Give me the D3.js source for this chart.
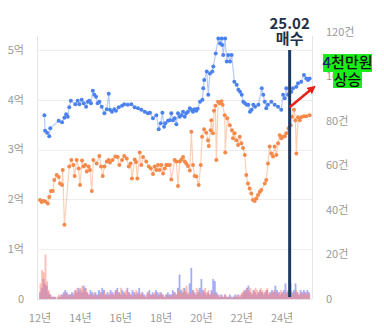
<!DOCTYPE html>
<meta charset="utf-8">
<style>

body {
  margin: 0;
  background: #fff;
}

svg {
  font-family: "Noto Sans CJK KR", "Noto Sans", sans-serif;
}

.tick-label {
  fill: #999;
  font-size: 11px;
}

.grid line {
  stroke: #eee;
  stroke-width: 1px;
}

.frame {
  stroke: #e4e4e4;
  stroke-width: 1px;
}

.sale-line {
  fill: none;
  stroke: #6f98f2;
  stroke-opacity: 0.5;
  stroke-width: 1.2px;
}

.sale-dot {
  fill: #4c82f0;
}

.rent-line {
  fill: none;
  stroke: #f5894a;
  stroke-opacity: 0.4;
  stroke-width: 1.2px;
}

.rent-dot {
  fill: #f5894a;
}

.marker-label {
  fill: #1e2f4a;
  font-size: 15px;
  font-weight: bold;
  text-anchor: middle;
}

.note {
  font-size: 15px;
  font-weight: 500;
  text-anchor: middle;
}

</style>
<svg></svg>
<script src="https://d3js.org/d3.v7.min.js"></script>
<script>

// months counted from 2012-01
var saleMonths = [2.6, 3.0, 4.2, 5.5, 6.1, 11.1, 13.1, 14.5, 15.5, 16.5, 17.4, 18.3, 21.0, 22.4, 23.4, 24.8, 26.0, 27.4, 28.4, 29.3,
  30.3, 31.4, 32.3, 33.3, 34.3, 35.3, 36.7, 38.3, 39.7, 40.9, 41.6, 42.8, 44.2, 45.2, 46.8, 48.8, 50.1, 52.2, 54.3, 56.3,
  58.3, 60.3, 62.3, 64.2, 65.4, 67.2, 69.2, 70.6, 71.8, 72.8, 73.8, 74.5, 76.1, 77.2, 78.1, 79.1, 80.1, 81.1, 82.1, 83.1,
  84.1, 85.1, 86.1, 87.0, 88.0, 89.1, 90.0, 91.0, 92.0, 93.0, 93.8, 95.2, 96.6, 97.1, 97.7, 99.2, 100.1, 101.1, 102.5, 103.1,
  104.5, 106.1, 107.1, 108.1, 108.4, 109.0, 110.1, 111.1, 112.0, 113.0, 114.0, 115.6, 117.0, 118.0, 119.0, 120.0, 120.9, 121.9, 123.0, 123.9,
  124.9, 125.9, 126.9, 127.9, 129.9, 131.9, 132.8, 133.7, 134.6, 135.6, 137.6, 139.6, 141.6, 143.5, 144.6, 145.6, 146.5, 147.5, 149.5, 150.5,
  152.5, 153.5, 155.4, 157.0, 158.4, 159.4, 160.4];

// 매매 price, 억
var salePrice = [3.69, 3.38, 3.34, 3.27, 3.43, 3.58, 3.55, 3.64, 3.71, 3.66, 3.85, 3.98, 3.91, 3.98, 3.91, 4.00, 3.93, 3.86, 3.96, 3.98,
  3.93, 4.18, 4.10, 4.06, 3.93, 3.96, 3.86, 3.73, 3.81, 4.12, 3.80, 3.76, 3.81, 3.78, 3.85, 3.88, 3.91, 3.90, 3.91, 3.85,
  3.83, 3.80, 3.76, 3.73, 3.74, 3.63, 3.69, 3.41, 3.53, 3.74, 3.46, 3.53, 3.58, 3.59, 3.73, 3.59, 3.63, 3.51, 3.73, 3.66,
  3.69, 3.76, 3.66, 3.73, 3.76, 3.83, 3.80, 3.76, 3.81, 3.78, 3.82, 3.96, 4.00, 4.23, 4.40, 4.57, 4.10, 4.53, 4.57, 4.67,
  4.93, 5.23, 5.13, 5.23, 5.10, 4.90, 5.23, 4.77, 4.90, 4.77, 4.90, 4.36, 4.30, 4.20, 4.16, 4.10, 3.96, 3.93, 3.90, 3.90,
  3.76, 3.80, 3.90, 3.86, 3.90, 4.23, 4.10, 3.96, 3.83, 3.90, 3.96, 3.90, 3.86, 3.80, 4.10, 4.03, 4.23, 4.10, 4.16, 4.23,
  4.26, 4.33, 4.36, 4.50, 4.43, 4.40, 4.43];

var rentMonths = [0.0, 1.0, 2.0, 3.2, 4.6, 5.5, 6.5, 7.6, 8.5, 9.9, 11.1, 11.9, 13.1, 13.5, 14.5, 17.4, 18.6, 19.8, 20.6, 21.8,
  23.0, 23.8, 25.0, 25.8, 26.9, 27.8, 29.0, 29.7, 30.8, 31.7, 33.7, 35.3, 36.3, 37.3, 38.3, 39.7, 40.9, 41.6, 43.2, 44.8,
  46.2, 47.2, 48.8, 50.1, 51.6, 52.8, 53.9, 54.7, 56.3, 57.1, 57.9, 59.3, 60.3, 61.3, 63.2, 64.7, 65.9, 67.2, 68.2, 69.2,
  70.2, 71.2, 72.2, 73.2, 74.2, 75.1, 76.1, 77.2, 78.1, 80.1, 81.1, 82.1, 83.1, 84.1, 85.1, 86.1, 87.0, 88.0, 89.1, 90.0,
  91.0, 92.0, 93.0, 94.4, 95.6, 96.4, 97.6, 98.9, 99.9, 100.4, 101.5, 101.9, 102.9, 103.5, 104.3, 104.9, 105.9, 106.9, 107.9, 108.6,
  109.9, 110.2, 111.4, 112.9, 114.2, 114.8, 115.8, 116.8, 117.8, 118.8, 119.8, 120.8, 121.8, 122.7, 123.7, 124.7, 125.7, 126.7, 127.7, 128.7,
  129.7, 130.7, 131.6, 133.7, 134.6, 135.6, 136.6, 137.6, 138.6, 139.6, 140.6, 141.6, 142.6, 143.5, 144.6, 145.6, 146.5, 147.9, 149.1, 149.9,
  151.1, 151.9, 152.5, 153.5, 154.5, 155.4, 157.0, 158.4, 160.4];

// 전세 price, 억
var rentPrice = [1.99, 1.95, 1.97, 1.96, 1.92, 2.05, 2.17, 2.17, 2.39, 2.49, 2.45, 2.32, 2.29, 2.59, 1.49, 2.66, 2.79, 2.69, 2.47, 2.79,
  2.62, 2.29, 2.78, 2.66, 2.69, 2.56, 2.66, 2.59, 2.17, 2.79, 2.72, 2.87, 2.66, 2.47, 2.66, 2.76, 2.79, 2.74, 2.79, 2.86,
  2.85, 2.69, 2.79, 2.87, 2.82, 2.66, 2.72, 2.42, 2.80, 2.75, 2.42, 2.94, 2.69, 2.85, 2.76, 2.66, 2.62, 2.51, 2.66, 2.59,
  2.69, 2.59, 2.69, 2.52, 2.62, 2.69, 2.69, 2.69, 2.40, 2.79, 2.76, 2.27, 2.76, 2.80, 2.85, 2.76, 2.72, 2.67, 2.58, 3.36,
  2.69, 2.47, 2.46, 2.29, 2.69, 3.26, 3.41, 3.34, 3.19, 3.07, 3.39, 3.59, 3.33, 3.78, 3.88, 2.79, 3.96, 3.93, 3.97, 3.90,
  3.69, 2.94, 3.63, 3.49, 3.39, 3.23, 3.33, 3.19, 3.09, 3.26, 3.13, 3.03, 2.89, 2.49, 2.32, 2.22, 2.12, 1.99, 1.97, 2.02,
  2.09, 2.15, 2.19, 2.32, 2.39, 2.72, 3.06, 2.92, 2.86, 3.06, 2.89, 3.13, 3.29, 3.23, 3.26, 3.27, 3.33, 3.43, 3.49, 3.66,
  3.80, 3.59, 2.92, 3.65, 3.59, 3.65, 3.67, 3.67, 3.69];

// monthly deal counts (건), one per month from 2012-01
var saleCount = [3, 5, 9, 7, 6, 3, 2, 1, 1, 1, 0, 1, 1, 2, 3, 4, 3, 2, 2, 3,
  2, 4, 3, 5, 4, 3, 6, 5, 3, 2, 4, 3, 2, 3, 2, 4, 3, 5, 4, 2,
  3, 2, 4, 3, 2, 4, 5, 3, 2, 4, 3, 2, 5, 3, 2, 4, 3, 2, 3, 5,
  2, 3, 2, 1, 3, 4, 2, 3, 2, 4, 3, 2, 3, 2, 1, 2, 3, 2, 2, 4,
  3, 2, 5, 11, 4, 3, 5, 3, 2, 7, 14, 4, 3, 2, 3, 5, 9, 4, 3, 2,
  3, 2, 4, 9, 8, 3, 2, 1, 2, 1, 2, 1, 1, 2, 1, 1, 2, 1, 2, 1,
  2, 3, 4, 5, 6, 3, 2, 4, 3, 2, 3, 4, 3, 2, 3, 4, 2, 3, 4, 3,
  6, 4, 3, 2, 3, 4, 7, 3, 4, 7, 3, 4, 7, 3, 2, 4, 3, 4, 3, 4, 3];

var rentCount = [7, 13, 12, 20, 8, 4, 2, 1, 1, 0, 1, 2, 2, 1, 2, 3, 1, 2, 2, 1,
  3, 4, 5, 3, 5, 6, 4, 5, 3, 2, 2, 1, 3, 2, 1, 2, 3, 2, 4, 2,
  1, 3, 2, 2, 3, 4, 2, 3, 5, 2, 3, 4, 2, 3, 2, 1, 3, 4, 2, 2,
  3, 2, 1, 2, 3, 2, 1, 2, 3, 2, 1, 3, 2, 2, 1, 2, 1, 2, 1, 2,
  3, 2, 4, 3, 2, 5, 4, 6, 3, 2, 3, 4, 2, 5, 4, 3, 2, 4, 5, 3,
  4, 2, 3, 2, 3, 2, 1, 2, 1, 1, 2, 1, 1, 1, 0, 1, 1, 2, 1, 2,
  3, 4, 3, 5, 4, 5, 3, 4, 5, 4, 3, 5, 4, 3, 4, 5, 3, 2, 3, 4,
  3, 2, 3, 4, 3, 2, 3, 4, 3, 4, 2, 3, 4, 3, 2, 3, 2, 3, 2, 3, 2];

var yearTicks = [12, 14, 16, 18, 20, 22, 24];
var priceTicks = [0, 1, 2, 3, 4, 5];
var countTicks = [0, 20, 40, 60, 80, 100, 120];

var markerMonth = 148.5;
var markerText = ['25.02', '매수'];
var noteText = ['4천만원', '상승'];

var width = 384;
var height = 334;
var left = 37, right = 312, bottom = 299;

var svg = d3.select('svg')
  .attr('width', width)
  .attr('height', height);

var x = d3.scaleLinear().domain([-1.8, 161.8]).range([left, right]);
var yPrice = d3.scaleLinear().domain([0, 5]).range([bottom, 50]);
var yCount = d3.scaleLinear().domain([0, 120]).range([bottom, 32]);

// grid
svg.append('g')
  .attr('class', 'grid')
  .selectAll('line')
  .data(priceTicks.slice(1))
  .enter().append('line')
  .attr('x1', left)
  .attr('x2', right)
  .attr('y1', function (d) { return Math.round(yPrice(d)) + 0.5; })
  .attr('y2', function (d) { return Math.round(yPrice(d)) + 0.5; });

svg.append('line').attr('class', 'frame')
  .attr('x1', left + 0.5).attr('x2', left + 0.5).attr('y1', 36).attr('y2', bottom);
svg.append('line').attr('class', 'frame')
  .attr('x1', right + 0.5).attr('x2', right + 0.5).attr('y1', 36).attr('y2', bottom);
svg.append('line').attr('class', 'frame')
  .attr('x1', left).attr('x2', right).attr('y1', bottom + 0.5).attr('y2', bottom + 0.5);

// axis labels
svg.append('g')
  .selectAll('text')
  .data(priceTicks)
  .enter().append('text')
  .attr('class', 'tick-label')
  .attr('x', 24)
  .attr('y', function (d) { return yPrice(d); })
  .attr('dy', '0.35em')
  .attr('text-anchor', 'end')
  .text(function (d) { return d === 0 ? '0' : d + '억'; });

svg.append('g')
  .selectAll('text')
  .data(countTicks)
  .enter().append('text')
  .attr('class', 'tick-label')
  .attr('x', 326)
  .attr('y', function (d) { return yCount(d); })
  .attr('dy', '0.35em')
  .text(function (d) { return d === 0 ? '0' : d + '건'; });

svg.append('g')
  .selectAll('text')
  .data(yearTicks)
  .enter().append('text')
  .attr('class', 'tick-label')
  .attr('x', function (d) { return x((d - 12) * 12); })
  .attr('y', 318)
  .attr('dy', '0.35em')
  .attr('text-anchor', 'middle')
  .text(function (d) { return d + '년'; });

// deal count bars
var barW = 1.8;
svg.append('g')
  .selectAll('rect')
  .data(saleCount)
  .enter().append('rect')
  .attr('x', function (d, i) { return x(i) - barW / 2; })
  .attr('y', function (d) { return yCount(d); })
  .attr('width', barW)
  .attr('height', function (d) { return bottom - yCount(d); })
  .attr('fill', '#5f68f5')
  .attr('fill-opacity', 0.55);

svg.append('g')
  .selectAll('rect')
  .data(rentCount)
  .enter().append('rect')
  .attr('x', function (d, i) { return x(i) - barW / 2 + 0.4; })
  .attr('y', function (d) { return yCount(d); })
  .attr('width', barW)
  .attr('height', function (d) { return bottom - yCount(d); })
  .attr('fill', '#ff8575')
  .attr('fill-opacity', 0.55);

// price lines
function drawSeries(months, values, cls) {
  var pts = months.map(function (m, i) { return [m, values[i]]; });
  var line = d3.line()
    .x(function (d) { return x(d[0]); })
    .y(function (d) { return yPrice(d[1]); });
  svg.append('path')
    .datum(pts)
    .attr('class', cls + '-line')
    .attr('d', line);
  svg.append('g')
    .selectAll('circle')
    .data(pts)
    .enter().append('circle')
    .attr('class', cls + '-dot')
    .attr('cx', function (d) { return x(d[0]); })
    .attr('cy', function (d) { return yPrice(d[1]); })
    .attr('r', 2);
}

drawSeries(rentMonths, rentPrice, 'rent');
drawSeries(saleMonths, salePrice, 'sale');

// purchase marker
svg.append('line')
  .attr('x1', x(markerMonth))
  .attr('x2', x(markerMonth))
  .attr('y1', 50)
  .attr('y2', bottom - 2)
  .attr('stroke', '#1d3a63')
  .attr('stroke-width', 3);

svg.selectAll('.marker-label')
  .data(markerText)
  .enter().append('text')
  .attr('class', 'marker-label')
  .attr('x', x(markerMonth))
  .attr('y', function (d, i) { return 29 + i * 15; })
  .text(function (d) { return d; });

// red arrow
svg.append('defs').append('marker')
  .attr('id', 'head')
  .attr('viewBox', '0 0 10 10')
  .attr('refX', 6)
  .attr('refY', 5)
  .attr('markerWidth', 3.2)
  .attr('markerHeight', 3.2)
  .attr('orient', 'auto')
  .append('path')
  .attr('d', 'M0,0L10,5L0,10z')
  .attr('fill', '#e8211c');

svg.append('line')
  .attr('x1', x(markerMonth))
  .attr('y1', yPrice(3.85))
  .attr('x2', x(162.5))
  .attr('y2', yPrice(4.24))
  .attr('stroke', '#e8211c')
  .attr('stroke-width', 2.6)
  .attr('marker-end', 'url(#head)');

// green note
svg.append('rect')
  .attr('x', 323).attr('y', 54).attr('width', 49).attr('height', 18)
  .attr('fill', '#1bec1b');
svg.append('rect')
  .attr('x', 333).attr('y', 71).attr('width', 29).attr('height', 17)
  .attr('fill', '#1bec1b');

var note1 = svg.append('text')
  .attr('class', 'note')
  .attr('x', 347.5)
  .attr('y', 68);
note1.append('tspan').attr('fill', '#18246b').text(noteText[0].slice(0, 1));
note1.append('tspan').attr('fill', '#111').text(noteText[0].slice(1));

svg.append('text')
  .attr('class', 'note')
  .attr('x', 347.5)
  .attr('y', 85)
  .attr('fill', '#111')
  .text(noteText[1]);

</script>
